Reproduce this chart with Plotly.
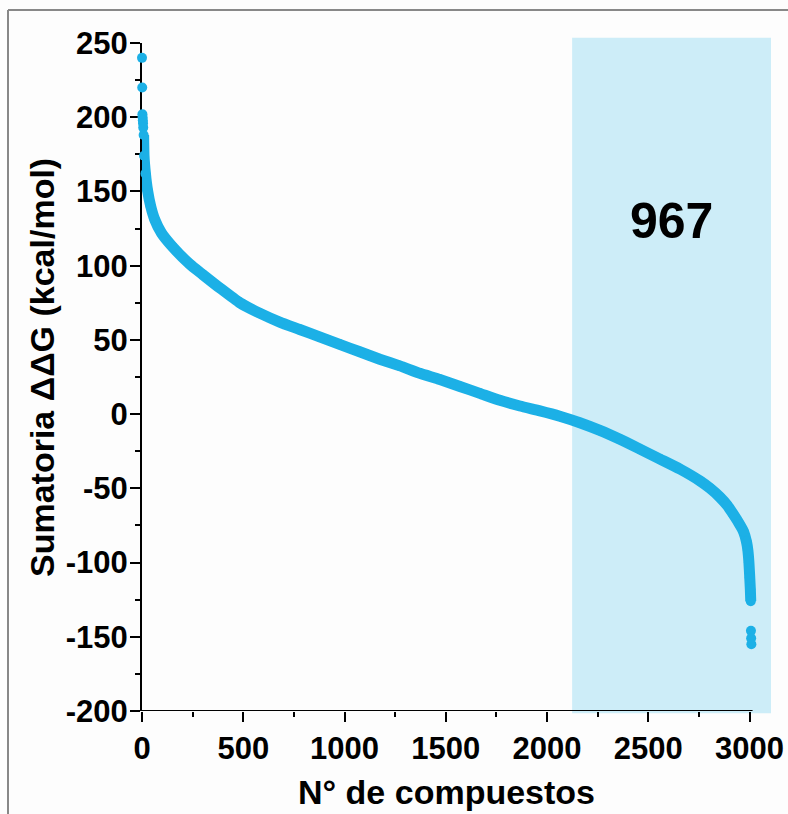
import plotly.graph_objects as go

# ---- data ----
compound_rank = [0, 1, 2, 3, 4, 5, 6, 8, 10, 17, 27, 43, 63, 96, 149, 236, 300, 384,
                 483, 581, 680, 779, 877, 976, 1075, 1174, 1273, 1372, 1471, 1570,
                 1668, 1767, 1866, 1965, 2063, 2162, 2261, 2360, 2459, 2558, 2656,
                 2755, 2805, 2854, 2890, 2920, 2950, 2970, 2985, 2992, 2997, 3001,
                 3004, 3006, 3007, 3008, 3009]
ddg_sum = [240, 220, 202, 200, 198, 196, 193, 188, 174, 162, 151, 140, 131, 122, 113,
           101, 94, 85, 75, 68, 62, 57, 52, 47, 42, 37, 32.5, 27.5, 23.3, 18.6, 14,
           9.3, 5.5, 2.2, -1.4, -5.8, -11, -17, -23.6, -30.3, -37, -45, -50, -56,
           -61.5, -67.5, -74, -79, -86, -92, -100, -110, -118, -126, -146, -151, -155]

highlight_start = 2124          # first compound of the highlighted block
highlight_label = "967"
highlight_label_pos = (2616, 130)

x_ticks = [0, 500, 1000, 1500, 2000, 2500, 3000]
y_ticks = [-200, -150, -100, -50, 0, 50, 100, 150, 200, 250]
x_range = [0, 3106]
x_axis_end = 3015
y_range = [-200, 250]

x_title = "N° de compuestos"
y_title = "Sumatoria ΔΔG (kcal/mol)"

POINT_COLOR = "#1CB0E6"
SHADE_COLOR = "#CDEDF8"
FONT = "Liberation Sans, Arial, sans-serif"

# continuous part of the curve (outlying isolated points excluded)
i0 = compound_rank.index(8)
i1 = compound_rank.index(3006)

fig = go.Figure()
fig.add_trace(go.Scatter(
    x=compound_rank[i0:i1 + 1], y=ddg_sum[i0:i1 + 1], mode="lines",
    line=dict(color=POINT_COLOR, width=11, shape="spline", smoothing=0.5),
    hoverinfo="skip", showlegend=False, cliponaxis=False))
fig.add_trace(go.Scatter(
    x=compound_rank, y=ddg_sum, mode="markers",
    marker=dict(color=POINT_COLOR, size=10, line=dict(width=0)),
    showlegend=False, cliponaxis=False))

W, H = 788, 814
ml, mr, mt, mb = 142, 17, 43, 103
pw, ph = W - ml - mr, H - mt - mb


def px_x(p):
    return (p - ml) / pw


def px_y(p):
    return (H - mb - p) / ph


yspan = y_range[1] - y_range[0]
shapes = [
    # highlighted block
    dict(type="rect", xref="x", yref="paper", x0=highlight_start, x1=x_range[1],
         y0=(-201.5 - y_range[0]) / yspan, y1=(253.6 - y_range[0]) / yspan,
         fillcolor=SHADE_COLOR, line=dict(width=0), layer="below"),
    # x axis line (ends just past 3000)
    dict(type="line", xref="x", yref="y", x0=0, x1=x_axis_end, y0=y_range[0], y1=y_range[0],
         line=dict(color="black", width=2), layer="below"),
    # frame of the original slide
    dict(type="line", xref="paper", yref="paper", x0=px_x(8), x1=px_x(W + 5),
         y0=px_y(10), y1=px_y(10), line=dict(color="#888888", width=2)),
    dict(type="line", xref="paper", yref="paper", x0=px_x(8), x1=px_x(8),
         y0=px_y(10), y1=px_y(H + 5), line=dict(color="#888888", width=2)),
]

annotations = [
    dict(text=highlight_label, x=highlight_label_pos[0], y=highlight_label_pos[1],
         xref="x", yref="y", showarrow=False,
         font=dict(family=FONT, size=50, color="black", weight="bold")),
    dict(text=x_title, xref="paper", yref="paper", x=px_x(446), y=px_y(792),
         showarrow=False, xanchor="center", yanchor="middle",
         font=dict(family=FONT, size=34, color="black", weight="bold")),
    dict(text=y_title, xref="paper", yref="paper", x=px_x(42), y=px_y(368),
         showarrow=False, xanchor="center", yanchor="middle", textangle=-90,
         font=dict(family=FONT, size=34, color="black", weight="bold")),
]

tickfont = dict(family=FONT, size=31, color="black", weight="bold")

fig.update_layout(
    width=W, height=H,
    margin=dict(l=ml, r=mr, t=mt, b=mb, pad=0, autoexpand=False),
    paper_bgcolor="#fdfdfd", plot_bgcolor="rgba(0,0,0,0)",
    shapes=shapes, annotations=annotations,
    xaxis=dict(range=x_range, tickvals=x_ticks, ticktext=[str(v) for v in x_ticks],
               showline=False, showgrid=False, automargin=False,
               zeroline=False, ticks="outside", ticklen=10, tickwidth=2,
               tickcolor="black", tickfont=tickfont,
               minor=dict(dtick=250, tick0=0, ticks="outside", ticklen=5,
                          tickwidth=2, tickcolor="black", showgrid=False)),
    yaxis=dict(range=y_range, tickvals=y_ticks, ticktext=[str(v) for v in y_ticks],
               showline=True, linewidth=2, automargin=False,
               linecolor="black", showgrid=False, zeroline=False,
               ticks="outside", ticklen=10, tickwidth=2, tickcolor="black",
               tickfont=tickfont, layer="below traces", ticklabelstandoff=-4,
               minor=dict(dtick=25, tick0=0, ticks="outside", ticklen=5,
                          tickwidth=2, tickcolor="black", showgrid=False)),
)

fig.write_html(
    "out.html",
    config={"displayModeBar": False},
    post_script="document.body.style.margin='0';document.body.style.overflow='hidden';",
)
